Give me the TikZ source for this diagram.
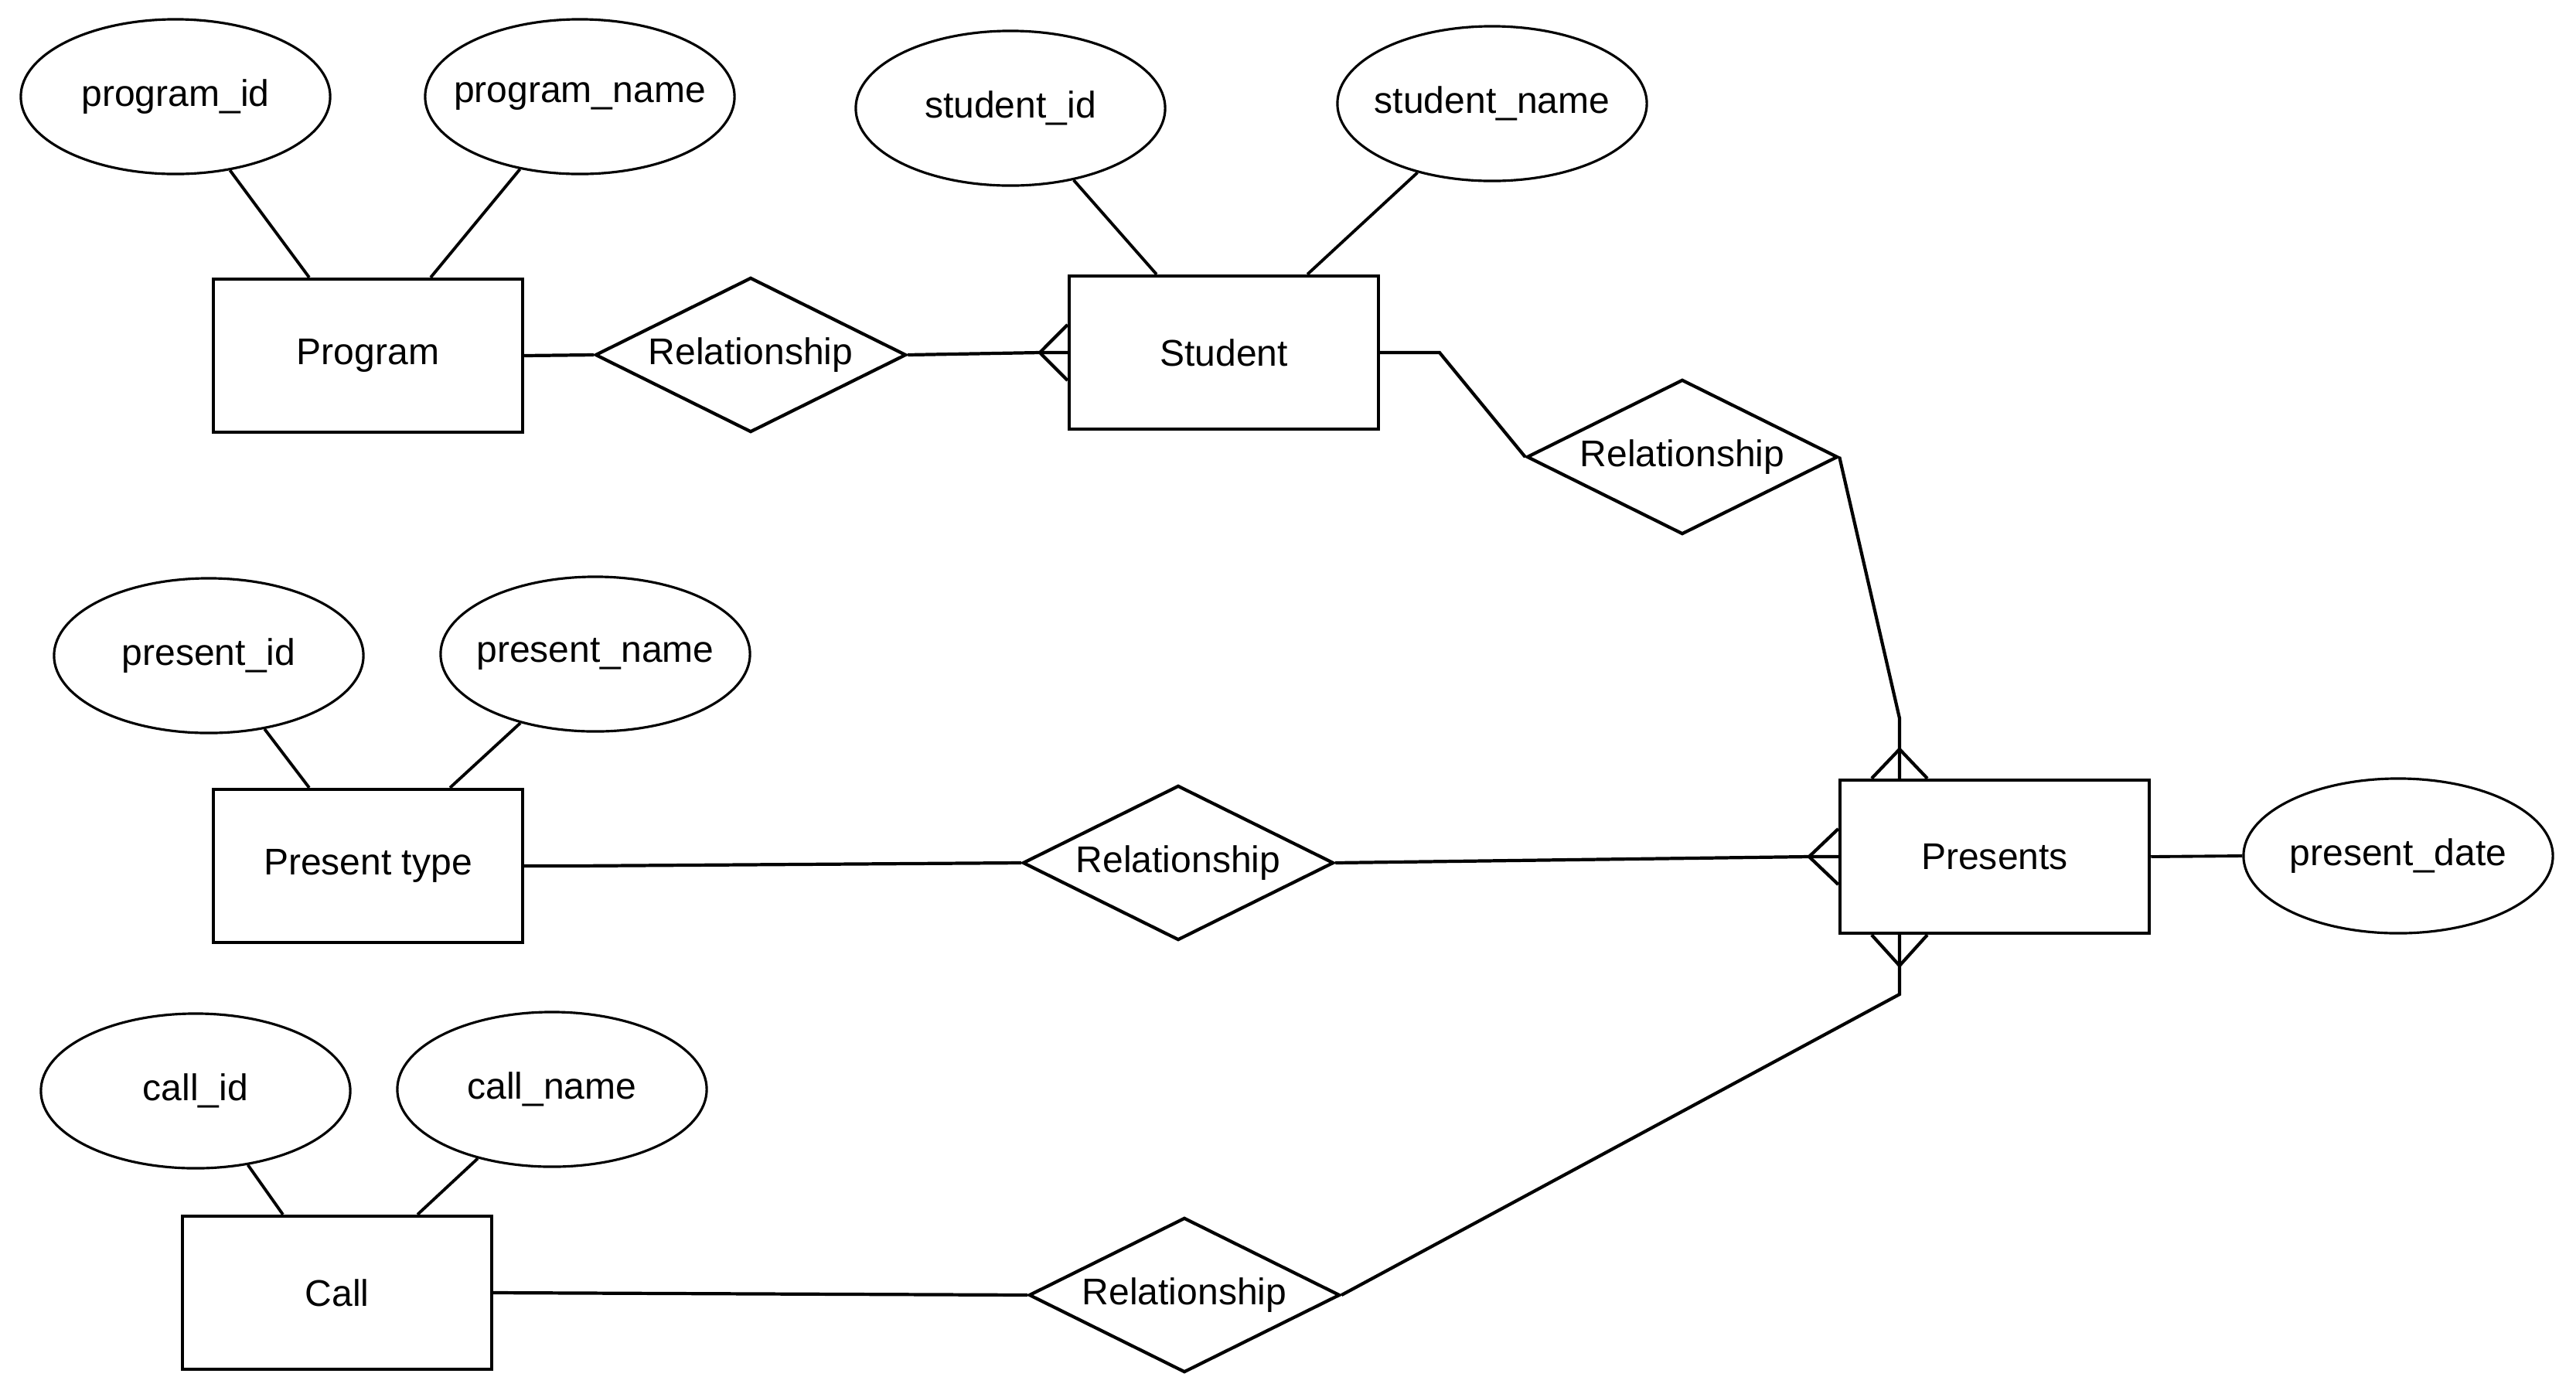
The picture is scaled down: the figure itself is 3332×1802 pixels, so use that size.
\documentclass[tikz,border=0pt]{standalone}
\usepackage{fontspec}
\setmainfont{Liberation Sans}
\usetikzlibrary{shapes.geometric}
\newcommand{\attrtxt}[1]{\makebox[0pt][c]{#1}}
\begin{document}
\begin{tikzpicture}[x=0.01cm,y=-0.01cm,
  lbl/.style={font=\fontsize{13.66}{16}\selectfont},
  ent/.style={lbl,draw,line width=1.2pt,minimum width=4cm,minimum height=1.98cm,inner sep=0pt},
  attr/.style={lbl,draw,ellipse,line width=0.9pt,minimum width=4cm,minimum height=2cm,inner sep=0pt},
  rel/.style={lbl,draw,diamond,shape aspect=2,line width=1.2pt,minimum width=4.02cm,minimum height=2cm,inner sep=0pt},
  conn/.style={line width=1.2pt,line join=miter},
  aconn/.style={line width=1.1pt}]
\fill[white] (0,0) rectangle (3332,1802);
\useasboundingbox (0,0) rectangle (3332,1802);
% entities
\node[ent] (prog) at (476,460) {Program};
\node[ent] (stud) at (1583,456) {Student};
\node[ent] (ptype) at (476,1120) {Present type};
\node[ent] (call) at (436,1672) {Call};
\node[ent] (pres) at (2580,1108) {Presents};
% attributes
\node[attr] (pid) at (227,125) {\attrtxt{program\_id}};
\node[attr] (pname) at (750,125) {\attrtxt{program\_name}};
\node[attr] (sid) at (1307,140) {\attrtxt{student\_id}};
\node[attr] (sname) at (1930,134) {\attrtxt{student\_name}};
\node[attr] (prid) at (270,848) {\attrtxt{present\_id}};
\node[attr] (prname) at (770,846) {\attrtxt{present\_name}};
\node[attr] (cid) at (253,1411) {\attrtxt{call\_id}};
\node[attr] (cname) at (714,1409) {\attrtxt{call\_name}};
\node[attr] (pdate) at (3102,1107) {\attrtxt{present\_date}};
% relationships
\node[rel] (r1) at (971,459) {Relationship};
\node[rel] (r2) at (2176,591) {Relationship};
\node[rel] (r3) at (1524,1116) {Relationship};
\node[rel] (r4) at (1532,1675) {Relationship};
% attribute links
\draw[aconn] (pid) -- ([xshift=-0.76cm]prog.north);
\draw[aconn] (pname) -- ([xshift=0.81cm]prog.north);
\draw[aconn] (sid) -- ([xshift=-0.87cm]stud.north);
\draw[aconn] (sname) -- ([xshift=1.08cm]stud.north);
\draw[aconn] (prid) -- ([xshift=-0.76cm]ptype.north);
\draw[aconn] (prname) -- ([xshift=1.06cm]ptype.north);
\draw[aconn] (cid) -- ([xshift=-0.70cm]call.north);
\draw[aconn] (cname) -- ([xshift=1.04cm]call.north);
\draw[aconn] (pres.east) -- (pdate.west);
% coordinates
\coordinate (sv) at (1345,456);
\coordinate (s2) at (1862,456);
\coordinate (t1) at (2457,929);
\coordinate (ptv) at (2457,969);
\coordinate (plv) at (2340,1108);
\coordinate (pbv) at (2457,1249);
\coordinate (b1) at (2457,1286);
\coordinate (pt1) at (744,1120);
% relationship links
\draw[conn] (prog.east) -- (r1.west);
\draw[conn] (r1.east) -- (sv) -- (stud.west);
\draw[conn] ([yshift=0.36cm]stud.west) -- (sv) -- ([yshift=-0.36cm]stud.west);
\draw[conn] (stud.east) -- (s2) -- (r2.west);
\draw[conn] (r2.east) -- (t1) -- ([xshift=-1.23cm]pres.north);
\draw[conn] ([xshift=-1.59cm]pres.north) -- (ptv) -- ([xshift=-0.87cm]pres.north);
\draw[conn] (ptype.east) -- (pt1) -- (r3.west);
\draw[conn] (r3.east) -- (plv) -- (pres.west);
\draw[conn] ([yshift=0.36cm]pres.west) -- (plv) -- ([yshift=-0.36cm]pres.west);
\draw[conn] ([xshift=-1.23cm]pres.south) -- (b1) -- (r4.east);
\draw[conn] ([xshift=-1.59cm]pres.south) -- (pbv) -- ([xshift=-0.87cm]pres.south);
\draw[conn] (call.east) -- (r4.west);
\end{tikzpicture}
\end{document}
